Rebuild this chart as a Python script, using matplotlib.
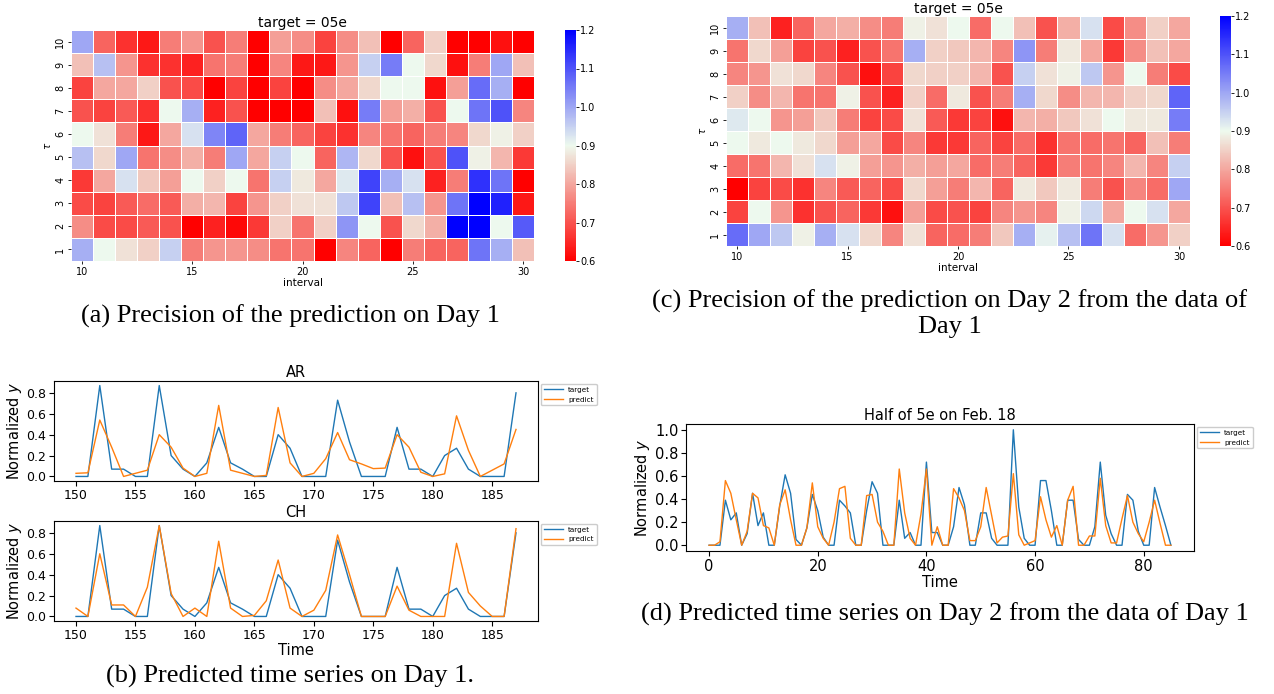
import numpy as np
import matplotlib.pyplot as plt
from matplotlib.colors import LinearSegmentedColormap

# --- heatmap data: rows tau = 1..10, columns interval = 10..30 ---
intervals = np.arange(10, 31)
taus = np.arange(1, 11)

# (a) precision on Day 1 (row order: tau 1 first)
prec_day1 = np.array([
    [0.99, 0.90, 0.87, 0.85, 0.95, 0.75, 0.78, 0.78, 0.77, 0.74, 0.74, 0.60, 0.76, 0.72, 0.60, 0.75, 0.72, 0.72, 1.06, 0.99, 0.83],
    [0.77, 0.69, 0.69, 0.71, 0.70, 0.60, 0.64, 0.61, 0.67, 0.85, 0.74, 0.85, 1.02, 0.90, 0.70, 0.86, 0.81, 1.20, 1.20, 0.90, 1.09],
    [0.69, 0.68, 0.71, 0.73, 0.71, 0.81, 0.82, 0.68, 0.78, 0.85, 0.87, 0.87, 0.96, 1.12, 0.83, 0.97, 0.78, 1.06, 1.20, 1.16, 0.63],
    [0.67, 0.80, 0.93, 0.84, 0.79, 0.90, 0.85, 0.90, 0.74, 0.95, 0.88, 0.80, 0.92, 1.12, 0.99, 0.93, 0.64, 0.75, 1.14, 1.06, 0.60],
    [0.97, 0.86, 1.00, 0.74, 0.77, 0.81, 0.75, 1.00, 0.80, 0.95, 0.90, 0.72, 0.98, 0.86, 0.70, 0.62, 0.70, 1.10, 0.89, 0.82, 0.67],
    [0.90, 0.87, 0.75, 0.63, 0.80, 0.93, 1.04, 1.08, 0.80, 0.75, 0.72, 0.68, 0.66, 0.76, 0.74, 0.72, 0.75, 0.76, 0.86, 0.89, 0.85],
    [0.70, 0.68, 0.71, 0.66, 0.90, 0.99, 0.64, 0.70, 0.60, 0.60, 0.60, 0.83, 0.62, 1.05, 0.79, 0.81, 0.70, 0.90, 1.06, 1.10, 0.76],
    [0.68, 0.80, 0.80, 0.85, 0.70, 0.69, 0.60, 0.68, 0.60, 0.68, 0.60, 0.77, 0.80, 0.86, 0.90, 0.90, 0.62, 0.79, 1.07, 0.99, 0.60],
    [0.83, 0.97, 0.78, 0.66, 0.66, 0.64, 0.74, 0.75, 0.60, 0.76, 0.63, 0.63, 0.78, 0.95, 1.05, 0.90, 0.86, 0.62, 0.75, 1.00, 0.83],
    [1.00, 0.72, 0.66, 0.63, 0.75, 0.78, 0.70, 0.75, 0.60, 0.79, 0.77, 0.68, 0.77, 0.83, 0.60, 0.72, 0.85, 0.60, 0.60, 0.62, 0.60],
])

# (c) precision on Day 2 from the data of Day 1
prec_day2 = np.array([
    [1.07, 1.00, 0.96, 0.89, 0.99, 0.93, 0.86, 0.76, 0.87, 0.72, 0.73, 0.75, 0.84, 0.99, 0.91, 0.97, 1.06, 0.93, 0.73, 0.78, 0.85],
    [0.68, 0.90, 0.78, 0.66, 0.70, 0.72, 0.67, 0.62, 0.79, 0.69, 0.70, 0.68, 0.76, 0.78, 0.76, 0.89, 0.94, 0.80, 0.90, 0.93, 0.80],
    [0.60, 0.68, 0.69, 0.66, 0.76, 0.71, 0.72, 0.69, 0.86, 0.79, 0.75, 0.82, 0.72, 0.88, 0.84, 0.88, 0.75, 0.70, 0.76, 0.73, 1.00],
    [0.73, 0.74, 0.82, 0.87, 0.93, 0.89, 0.79, 0.78, 0.81, 0.79, 0.80, 0.73, 0.75, 0.72, 0.67, 0.75, 0.74, 0.76, 0.82, 0.76, 0.95],
    [0.90, 0.88, 0.90, 0.88, 0.86, 0.79, 0.80, 0.69, 0.76, 0.67, 0.67, 0.72, 0.68, 0.73, 0.66, 0.74, 0.73, 0.74, 0.72, 0.83, 0.75],
    [0.92, 0.90, 0.78, 0.79, 0.84, 0.75, 0.68, 0.69, 0.87, 0.71, 0.67, 0.68, 0.62, 0.82, 0.81, 0.84, 0.87, 0.90, 0.88, 0.88, 1.05],
    [0.85, 0.77, 0.82, 0.74, 0.74, 0.89, 0.70, 0.64, 0.85, 0.73, 0.88, 0.70, 0.75, 0.99, 0.86, 0.77, 0.82, 0.82, 0.85, 0.86, 1.08],
    [0.76, 0.78, 0.87, 0.86, 0.76, 0.70, 0.62, 0.68, 0.86, 0.85, 0.85, 0.82, 0.70, 0.95, 0.87, 0.89, 0.96, 0.78, 0.90, 0.75, 0.69],
    [0.74, 0.86, 0.79, 0.68, 0.70, 0.64, 0.70, 0.74, 0.99, 0.85, 0.84, 0.82, 0.76, 1.02, 0.75, 0.88, 0.80, 0.67, 0.77, 0.83, 0.80],
    [0.99, 0.83, 0.64, 0.72, 0.80, 0.81, 0.77, 0.75, 0.89, 0.87, 0.90, 0.73, 0.90, 0.83, 0.70, 0.81, 0.93, 0.69, 0.77, 0.85, 0.80],
])

# --- time series on Day 1 ---
t_day1 = np.arange(150, 188)
target_day1 = [0, 0, 0.87, 0.07, 0.07, 0, 0, 0.87, 0.2, 0.07, 0, 0.13, 0.47, 0.13, 0.07, 0, 0, 0.4, 0.27, 0,
               0, 0, 0.73, 0.33, 0, 0, 0, 0.47, 0.07, 0.07, 0, 0.2, 0.27, 0.07, 0, 0, 0, 0.8]
ar_predict = [0.03, 0.035, 0.54, 0.28, 0.0, 0.03, 0.06, 0.4, 0.28, 0.08, 0.0, 0.03, 0.68, 0.06, 0.03, 0.0, 0.01, 0.66, 0.13, 0.0,
              0.03, 0.17, 0.42, 0.16, 0.12, 0.075, 0.08, 0.4, 0.28, 0.04, 0.0, 0.025, 0.58, 0.25, 0.0, 0.06, 0.12, 0.45]
ch_predict = [0.08, 0.0, 0.6, 0.11, 0.11, 0.0, 0.28, 0.87, 0.22, 0.0, 0.08, 0.0, 0.72, 0.08, 0.0, 0.01, 0.15, 0.54, 0.08, 0.0,
              0.06, 0.25, 0.78, 0.4, 0.0, 0.0, 0.0, 0.29, 0.06, 0.0, 0.0, 0.0, 0.7, 0.23, 0.1, 0.0, 0.0, 0.84]

# --- half of 5e on Feb. 18 ---
t_day2 = np.arange(0, 86)
target_day2 = [0, 0, 0, 0.39, 0.22, 0.28, 0, 0.1, 0.45, 0.17, 0.28, 0, 0, 0.34, 0.61, 0.45, 0.05, 0, 0.15, 0.44,
               0.3, 0.07, 0, 0, 0.39, 0.34, 0.28, 0, 0, 0.3, 0.55, 0.45, 0, 0, 0, 0.39, 0.06, 0.11, 0, 0,
               0.72, 0.11, 0.11, 0, 0, 0.16, 0.5, 0.35, 0, 0, 0.28, 0.28, 0.06, 0, 0, 0, 1.0, 0.33, 0.06, 0,
               0, 0.56, 0.56, 0.3, 0, 0, 0.39, 0.39, 0.05, 0, 0, 0.16, 0.72, 0.26, 0.1, 0, 0, 0.44, 0.39, 0.12,
               0, 0, 0.5, 0.33, 0.17, 0]
predict_day2 = [0, 0, 0.03, 0.56, 0.45, 0.22, 0, 0.12, 0.45, 0.41, 0.17, 0.15, 0, 0.35, 0.48, 0.22, 0, 0, 0.15, 0.54,
                0.16, 0.06, 0, 0.2, 0.49, 0.51, 0.06, 0, 0, 0.43, 0.44, 0.2, 0.12, 0, 0, 0.66, 0.28, 0.06, 0, 0.27,
                0.66, 0, 0.16, 0, 0, 0.49, 0.41, 0.3, 0.04, 0.04, 0.16, 0.5, 0.26, 0.02, 0.07, 0.08, 0.62, 0.09, 0, 0.02,
                0.04, 0.42, 0.22, 0.07, 0.17, 0, 0.39, 0.51, 0, 0, 0.08, 0.08, 0.58, 0.17, 0.02, 0.02, 0.23, 0.43, 0.2, 0.1,
                0.03, 0.2, 0.39, 0.19, 0, 0]

W, H = 1274, 694
fig = plt.figure(figsize=(W / 100, H / 100), dpi=100)


def box(l, t, r, b):
    return [l / W, 1 - b / H, (r - l) / W, (b - t) / H]


cmap = LinearSegmentedColormap.from_list('prec', ['#ff0000', '#eefaee', '#0000ff'])


def heat(ax_box, cb_box, data):
    ax = fig.add_axes(box(*ax_box))
    x_edges = np.arange(intervals[0] - 0.5, intervals[-1] + 1.5)
    y_edges = np.arange(taus[0] - 0.5, taus[-1] + 1.5)
    m = ax.pcolormesh(x_edges, y_edges, data, cmap=cmap, vmin=0.6, vmax=1.2,
                      edgecolors='white', linewidth=0.6)
    for s in ax.spines.values():
        s.set_visible(False)
    ax.set_xticks([10, 15, 20, 25, 30])
    ax.set_yticks(taus)
    ax.set_yticklabels([str(t) for t in taus], rotation=90, va='center')
    ax.tick_params(labelsize=7, length=2, width=0.6, pad=2)
    ax.set_title('target = 05e', fontsize=10, pad=2)
    ax.set_xlabel('interval', fontsize=7.5, labelpad=1)
    ax.set_ylabel(r'$\tau$', fontsize=7.5, labelpad=2)
    cax = fig.add_axes(box(*cb_box))
    cb = fig.colorbar(m, cax=cax, ticks=[0.6, 0.7, 0.8, 0.9, 1.0, 1.1, 1.2])
    cb.outline.set_visible(False)
    cax.tick_params(labelsize=7, length=2, width=0.6, pad=1)
    return ax


heat((71, 30, 534, 261), (565, 30, 576, 261), prec_day1)
heat((726, 16, 1190, 246), (1220, 16, 1231, 246), prec_day2)


def series(ax_box, x, tgt, pred, title, xlabel, fs, lfs, ticks):
    ax = fig.add_axes(box(*ax_box))
    ax.plot(x, tgt, color='C0', lw=1.0, label='target')
    ax.plot(x, pred, color='C1', lw=1.0, label='predict')
    ax.set_title(title, fontsize=lfs, pad=3)
    ax.set_yticks(ticks)
    ax.tick_params(labelsize=fs, length=3.5, pad=2)
    ax.set_ylabel('Normalized $y$', fontsize=lfs, labelpad=2)
    if xlabel:
        ax.set_xlabel(xlabel, fontsize=lfs, labelpad=1)
    ax.legend(loc='upper left', bbox_to_anchor=(1.0, 1.0), fontsize=5.2,
              borderaxespad=0.4, handlelength=2.6, framealpha=1)
    return ax


ar_ticks = [0.0, 0.2, 0.4, 0.6, 0.8]
ax_ar = series((54, 381, 538, 481), t_day1, target_day1, ar_predict, 'AR', None, 9, 10.5, ar_ticks)
ax_ar.set_xticks([150, 155, 160, 165, 170, 175, 180, 185])
ax_ch = series((54, 521, 538, 621), t_day1, target_day1, ch_predict, 'CH', 'Time', 9, 10.5, ar_ticks)
ax_ch.set_xticks([150, 155, 160, 165, 170, 175, 180, 185])
ax_d = series((686, 424, 1194, 551), t_day2, target_day2, predict_day2, 'Half of 5e on Feb. 18', 'Time', 10.5, 10.5,
              [0.0, 0.2, 0.4, 0.6, 0.8, 1.0])
ax_d.set_xticks([0, 20, 40, 60, 80])

# captions
cap = dict(family='Liberation Serif', fontsize=19, ha='center', va='center')
fig.text(290 / W, 1 - 316 / H, '(a) Precision of the prediction on Day 1', **cap)
fig.text(950 / W, 1 - 314 / H, '(c) Precision of the prediction on Day 2 from the data of\nDay 1',
         linespacing=1.15, **cap)
fig.text(290 / W, 1 - 676 / H, '(b) Predicted time series on Day 1.', **cap)
fig.text(945 / W, 1 - 614 / H, '(d) Predicted time series on Day 2 from the data of Day 1', **cap)

fig.savefig('out.png', dpi=100)
